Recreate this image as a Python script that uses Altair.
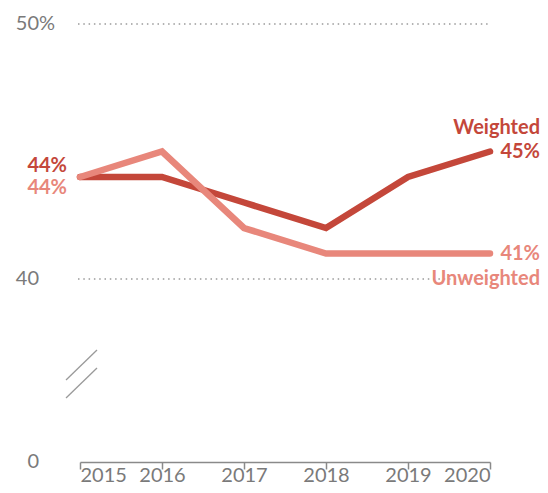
import altair as alt
import pandas as pd

years = [2015, 2016, 2017, 2018, 2019, 2020]
weighted = [44, 44, 43, 42, 44, 45]
unweighted = [44, 45, 42, 41, 41, 41]
series_names = ["Weighted", "Unweighted"]
series_colors = ["#C4473A", "#E8877B"]
grid_values = [50, 40]
ylabel_values = [50, 40, 0]
ylabel_texts = ["50", "40", "0"]

W, H = 410, 438
rows = []
for name, vals in zip(series_names, [weighted, unweighted]):
    for y, v in zip(years, vals):
        rows.append({"year": y, "value": v, "series": name})
df = pd.DataFrame(rows)

xs = alt.Scale(domain=[years[0], years[-1]], nice=False, zero=False)
ys = alt.Scale(domain=[0, 40, 50], range=[H, H - 183, 0], nice=False, zero=False)
cs = alt.Scale(domain=series_names, range=series_colors)

FONT = "Lato"
GRAY = "#7a7a7a"

lines = alt.Chart(df).mark_line(strokeWidth=6.5, strokeCap="round", strokeJoin="miter").encode(
    x=alt.X("year:Q", scale=xs, axis=alt.Axis(
        values=years, format="d", title=None, grid=False,
        domainColor="#8a8a8a", domainWidth=1.5, tickColor="#8a8a8a", tickWidth=1.5,
        tickSize=7, labelFontSize=20, labelColor=GRAY, labelFont=FONT,
        labelBaseline="alphabetic", labelPadding=12)),
    y=alt.Y("value:Q", scale=ys, axis=None),
    color=alt.Color("series:N", scale=cs, legend=None),
)

grid_df = pd.DataFrame({"v": grid_values})
grid = alt.Chart(grid_df).mark_rule(color="#9a9a9a", strokeWidth=1.5, strokeDash=[1.5, 3.8]).encode(
    y=alt.Y("v:Q", scale=ys, axis=None),
    x=alt.value(-2),
    x2=alt.value(W),
)

yl_df = pd.DataFrame({"v": ylabel_values, "t": ylabel_texts})
ylab = alt.Chart(yl_df).mark_text(align="right", baseline="middle", fontSize=20,
                                   color=GRAY, font=FONT).encode(
    y=alt.Y("v:Q", scale=ys, axis=None),
    x=alt.value(-41),
    text="t:N",
)
pct_df = pd.DataFrame({"v": [ylabel_values[0]], "t": ["%"]})
pct = alt.Chart(pct_df).mark_text(align="left", baseline="middle", fontSize=20,
                                  color=GRAY, font=FONT).encode(
    y=alt.Y("v:Q", scale=ys, axis=None),
    x=alt.value(-41),
    text="t:N",
)

# break marks
brk_df = pd.DataFrame({"k": [0]})
brk1 = alt.Chart(brk_df).mark_rule(color="#9a9a9a", strokeWidth=1.3).encode(
    x=alt.value(-14), y=alt.value(356), x2=alt.value(17), y2=alt.value(326))
brk2 = alt.Chart(brk_df).mark_rule(color="#9a9a9a", strokeWidth=1.3).encode(
    x=alt.value(-14), y=alt.value(374), x2=alt.value(17), y2=alt.value(344))

first = df[df.year == years[0]].copy().reset_index(drop=True)
last = df[df.year == years[-1]].copy().reset_index(drop=True)
first["label"] = first["value"].astype(int).astype(str) + "%"
last["label"] = last["value"].astype(int).astype(str) + "%"

def lab(data, dx, dy, field):
    return alt.Chart(data).mark_text(align="right", baseline="middle", fontSize=20,
                                     fontWeight="bold", font=FONT, dx=dx, dy=dy).encode(
        x=alt.X("year:Q", scale=xs),
        y=alt.Y("value:Q", scale=ys, axis=None),
        text=field,
        color=alt.Color("series:N", scale=cs, legend=None),
    )

fw = first[first.series == "Weighted"].reset_index(drop=True)
fu = first[first.series == "Unweighted"].reset_index(drop=True)
lw = last[last.series == "Weighted"].reset_index(drop=True)
lu = last[last.series == "Unweighted"].reset_index(drop=True)

chart = alt.layer(
    grid, ylab, pct, brk1, brk2, lines,
    lab(fw, -13, -11, "label:N"),
    lab(fu, -13, 11, "label:N"),
    lab(lw, 50, 0, "label:N"),
    lab(lw, 50, -24, "series:N"),
    lab(lu, 50, 0, "label:N"),
    lab(lu, 50, 25, "series:N"),
).properties(
    width=W, height=H,
    autosize=alt.AutoSizeParams(type="none"),
    padding={"left": 72, "top": 16, "right": 50, "bottom": 23},
).configure_view(strokeWidth=0)

chart.save("out.html", embed_options={"renderer": "svg", "actions": False})
